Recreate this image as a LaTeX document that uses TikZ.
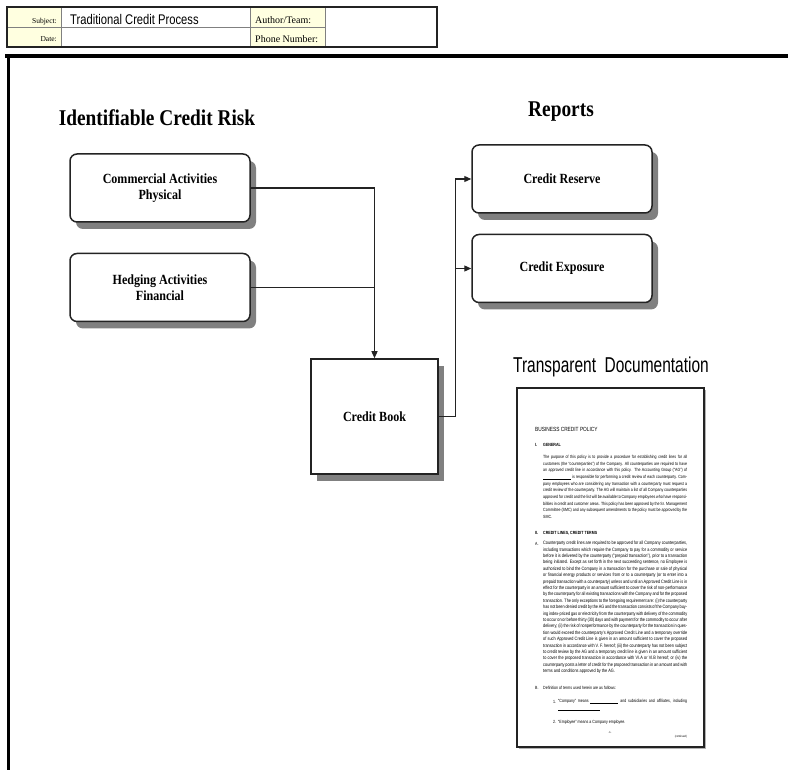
\documentclass[tikz,border=0pt]{standalone}
\usepackage{fontspec}
\setmainfont{Liberation Serif}
\newfontfamily\narrowserif[FakeStretch=0.86]{Liberation Serif}
\newfontfamily\narrowsans[FakeStretch=0.8]{Liberation Sans}
\newfontfamily\docheadfont[FakeStretch=0.72]{Liberation Sans}
\usetikzlibrary{arrows.meta,positioning,shadows}

\definecolor{hdrcream}{RGB}{255,255,224}
\definecolor{shadowgray}{RGB}{128,128,128}
\definecolor{linegray}{RGB}{35,35,35}
\newcommand{\policyblank}[1]{\rule[-0.4pt]{#1}{0.3pt}}

\begin{document}
\begin{tikzpicture}[
    x=1pt, y=-1pt,
    node distance=30pt,
    riskbox/.style={draw=linegray, line width=1.5pt, rounded corners=7pt, fill=white, minimum width=180pt, minimum height=68pt, align=center, font=\narrowserif\bfseries\fontsize{14}{16}\selectfont, drop shadow={shadow xshift=6pt, shadow yshift=-7pt, fill=shadowgray, opacity=1}},
    bookbox/.style={riskbox, sharp corners, minimum width=127pt, minimum height=115pt},
    heading/.style={font=\narrowserif\bfseries\fontsize{22.5}{25}\selectfont, inner sep=0pt},
    hdrlabel/.style={font=\fontsize{7.5}{9}\selectfont, inner sep=0pt},
    hdrlabelwide/.style={font=\fontsize{10}{12}\selectfont, inner sep=0pt},
    policypage/.style={draw=linegray, line width=1.3pt, fill=white, minimum width=187pt, minimum height=359pt, drop shadow={shadow xshift=2pt, shadow yshift=-2pt, fill=gray!60, opacity=1}},
    doctext/.style={font=\narrowsans\fontsize{4.5}{6.65}\selectfont, inner sep=0pt, text width=144pt, align=justify},
    doclabel/.style={font=\narrowsans\fontsize{4.5}{6.65}\selectfont, inner sep=0pt},
    arrow/.style={-{Triangle[length=7pt,width=6pt]}, line width=1.2pt, draw=linegray},
    link/.style={line width=1.2pt, draw=linegray}
]
\useasboundingbox[fill=white] (0,0) rectangle (788,770);

\fill[hdrcream] (7,7) rectangle (61,47);
\fill[hdrcream] (250,7) rectangle (325,47);
\draw[gray, line width=0.6pt] (7,27) -- (325,27) (61,7) -- (61,47) (250,7) -- (250,47) (325,7) -- (325,47);
\draw[linegray, line width=1.6pt] (7,7) rectangle (437,47);
\node[hdrlabel, anchor=base east] (subjectlbl) at (57,24) {Subject:};
\node[hdrlabel, anchor=base east] (datelbl) at (57,42) {Date:};
\node[font=\narrowsans\fontsize{14}{16}\selectfont, inner sep=0pt, anchor=base west] (subject) at (70,25) {Traditional Credit Process};
\node[hdrlabelwide, anchor=base west] (authorlbl) at (255,24) {Author/Team:};
\node[hdrlabelwide, anchor=base west] (phonelbl) at (255,43) {Phone Number:};

\draw[line width=4pt] (5,56) -- (788,56);
\draw[line width=3pt] (8.5,56) -- (8.5,770);

\node[heading, anchor=base] (risktitle) at (157,126) {Identifiable Credit Risk};
\node[heading, anchor=base] (reportstitle) at (561,117) {Reports};
\node[font=\docheadfont\fontsize{21.5}{24}\selectfont, inner sep=0pt, anchor=base] (doctitle) at (611,373) {Transparent~ Documentation};

\node[riskbox] (commercial) at (160,188) {Commercial Activities\\Physical};
\node[riskbox, below=of commercial] (hedging) {Hedging Activities\\Financial};
\node[bookbox] (creditbook) at (374.5,416.5) {Credit Book};
\node[riskbox] (reserve) at (562,179) {Credit Reserve};
\node[riskbox, below=20pt of reserve] (exposure) {Credit Exposure};

\draw[arrow] (commercial.east) -| (creditbook.north);
\draw[link] (hedging.east) -- (hedging.east -| creditbook.north);
\draw[link] (creditbook.east) -- ++(17,0) coordinate (split);
\draw[arrow] (split) |- (reserve.west);
\draw[arrow] (split |- exposure.west) -- (exposure.west);

\node[policypage] (page) at (610.5,567.5) {};
\node[font=\narrowsans\fontsize{6}{7}\selectfont, inner sep=0pt, anchor=base west] (policytitle) at (535,431) {BUSINESS CREDIT POLICY};
\node[doclabel, anchor=base west] (secone) at (535,446) {\bfseries I.};
\node[doclabel, anchor=base west] (seconetitle) at (543,446) {\bfseries GENERAL};
\node[doctext, anchor=north west] (general) at (543,455) {The purpose of this policy is to provide a procedure for establishing credit lines for all customers (the “counterparties”) of the Company.  All counterparties are required to have an approved credit line in accordance with this policy.  The Accounting Group (“AG”) of \policyblank{28pt} is responsible for performing a credit review of each counterparty.  Company employees who are considering any transaction with a counterparty must request a credit review of the counterparty.  The AG will maintain a list of all Company counterparties approved for credit and the list will be available to Company employees who have responsibilities in credit and customer areas.  This policy has been approved by the Sr. Management Committee (SMC) and any subsequent amendments to the policy must be approved by the SMC.};
\node[doclabel, anchor=base west] (sectwo) at (535,534) {\bfseries II.};
\node[doclabel, anchor=base west] (sectwotitle) at (543,534) {\bfseries CREDIT LINES, CREDIT TERMS};
\node[doclabel, anchor=base west] (itema) at (535,545) {A.};
\node[doctext, font=\narrowsans\fontsize{4.8}{6.4}\selectfont, anchor=north west] (termsa) at (543,541) {Counterparty credit lines are required to be approved for all Company counterparties, including transactions which require the Company to pay for a commodity or service before it is delivered by the counterparty (“prepaid transaction”), prior to a transaction being initiated.  Except as set forth in the next succeeding sentence, no Employee is authorized to bind the Company in a transaction for the purchase or sale of physical or financial energy products or services from or to a counterparty (or to enter into a prepaid transaction with a counterparty) unless and until an Approved Credit Line is in effect for the counterparty in an amount sufficient to cover the risk of non-performance by the counterparty for all existing transactions with the Company and for the proposed transaction.  The only exceptions to the foregoing requirement are: (i) the counterparty has not been denied credit by the AG and the transaction consists of the Company buying index-priced gas or electricity from the counterparty with delivery of the commodity to occur on or before thirty (30) days and with payment for the commodity to occur after delivery; (ii) the risk of nonperformance by the counterparty for the transaction in question would exceed the counterparty’s Approved Credit Line and a temporary override of such Approved Credit Line is given in an amount sufficient to cover the proposed transaction in accordance with V. F. hereof; (iii) the counterparty has not been subject to credit review by the AG and a temporary credit line is given in an amount sufficient to cover the proposed transaction in accordance with VI.A or VI.B hereof; or (iv) the counterparty posts a letter of credit for the proposed transaction in an amount and with terms and conditions approved by the AG.};
\node[doclabel, anchor=base west] (itemb) at (535,689) {B.};
\node[doclabel, anchor=base west] (termsb) at (543,689) {Definition of terms used herein are as follows:};
\node[doclabel, anchor=base west] (defone) at (553,703) {1.};
\node[doctext, text width=129pt, anchor=north west] (company) at (558,699.5) {“Company” means \policyblank{28pt} and subsidiaries and affiliates, including\linebreak \policyblank{42pt}};
\node[doclabel, anchor=base west] (deftwo) at (553,723) {2.};
\node[doclabel, anchor=base west] (employee) at (558,723) {“Employee” means a Company employee.};
\node[doclabel, font=\narrowsans\fontsize{3}{4}\selectfont, anchor=base] (pagenum) at (610,733) {-1-};
\node[doclabel, font=\narrowsans\fontsize{3}{4}\selectfont, anchor=base east] (footer) at (687,737) {(continued)};
\end{tikzpicture}
\end{document}
